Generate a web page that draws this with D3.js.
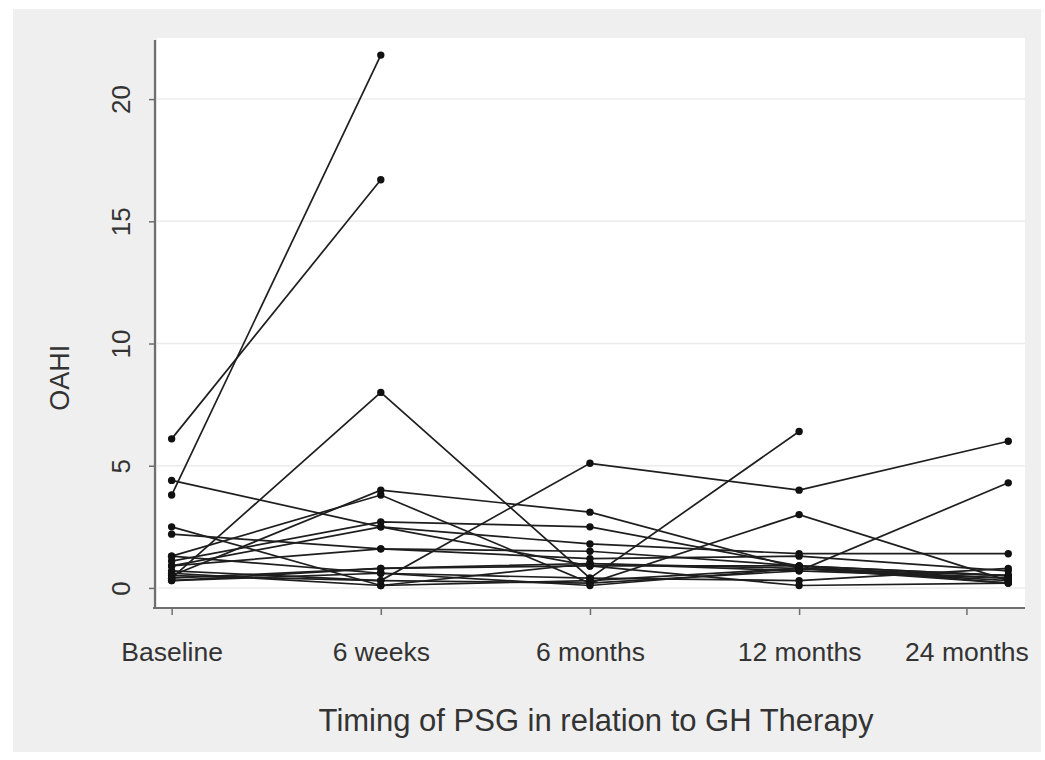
<!DOCTYPE html>
<html>
<head>
<meta charset="utf-8">
<script src="https://cdn.jsdelivr.net/npm/d3@7"></script>
<style>
  body { margin: 0; background: #fff; }
  svg { display: block; }
  text { font-family: "Liberation Sans", Arial, sans-serif; fill: #333; }
</style>
</head>
<body>
<div id="chart"></div>
<script>
// time points (x positions as index), tick labels
var timepoints = ["Baseline", "6 weeks", "6 months", "12 months", "24 months"];
var tickPos = [0, 1, 2, 3, 3.8];
var yTicks = [0, 5, 10, 15, 20];

// OAHI per subject, one value per time point (null = no PSG)
var s01 = [3.8, 21.8, null, null, null];
var s02 = [6.1, 16.7, null, null, null];
var s03 = [0.4, 8.0, 0.4, 6.4, null];
var s04 = [0.7, 0.3, 5.1, 4.0, 6.0];
var s05 = [4.4, 2.5, 1.8, 1.4, 1.4];
var s06 = [0.5, 4.0, 3.1, 0.8, 0.3];
var s07 = [1.3, 3.8, 0.2, 3.0, 0.3];
var s08 = [2.5, 0.1, 1.0, 0.7, 4.3];
var s09 = [2.2, 1.6, 1.5, 0.9, 0.5];
var s10 = [1.1, 2.7, 2.5, 0.9, 0.2];
var s11 = [0.9, 2.5, 0.9, 0.1, 0.2];
var s12 = [0.3, 0.8, 1.0, 0.8, 0.5];
var s13 = [0.3, 0.6, 0.4, 0.3, 0.8];
var s14 = [0.5, 0.3, 0.2, 0.7, 0.4];
var s15 = [0.9, 1.6, 1.2, 1.3, 0.7];
var s16 = [0.4, 0.8, 0.9, 0.9, 0.5];
var s17 = [0.6, 0.1, 0.3, 0.8, 0.2];
var s18 = [1.3, 0.6, 0.1, 0.8, 0.4];

var subjects = [s01, s02, s03, s04, s05, s06, s07, s08, s09, s10,
                s11, s12, s13, s14, s15, s16, s17, s18];

var width = 1045, height = 760;
var plot = { left: 157, right: 1025, top: 38, bottom: 607 };

var svg = d3.select("#chart").append("svg")
  .attr("width", width).attr("height", height);

// outer grey panel
svg.append("rect").attr("x", 13).attr("y", 9)
  .attr("width", 1028).attr("height", 743).attr("fill", "#efefef");
// plot area
svg.append("rect").attr("x", plot.left).attr("y", plot.top)
  .attr("width", plot.right - plot.left).attr("height", plot.bottom - plot.top)
  .attr("fill", "#fff");

var x = d3.scaleLinear().domain([-0.07, 4.08]).range([plot.left, plot.right]);
var y = d3.scaleLinear().domain([-0.78, 22.5]).range([plot.bottom, plot.top]);

// gridlines
svg.append("g").selectAll("line").data(yTicks).join("line")
  .attr("x1", plot.left).attr("x2", plot.right)
  .attr("y1", d => y(d)).attr("y2", d => y(d))
  .attr("stroke", "#ececec").attr("stroke-width", 1.5);

// y axis
var yAxis = svg.append("g")
  .attr("transform", "translate(" + (plot.left - 2) + ",0)")
  .call(d3.axisLeft(y).tickValues(yTicks).tickSize(6));
yAxis.select(".domain").attr("d", "M0," + (plot.top + 2) + "V" + (plot.bottom + 1))
  .attr("stroke", "#6e6e6e").attr("stroke-width", 2.2);
yAxis.selectAll(".tick line").attr("stroke", "#6e6e6e").attr("stroke-width", 1.5);
yAxis.selectAll(".tick text")
  .attr("font-size", 26).attr("fill", "#333")
  .attr("text-anchor", "middle").attr("dy", null).attr("x", null)
  .attr("transform", "translate(-32,0) rotate(-90)")
  .attr("dominant-baseline", "middle");

// x axis
var xAxis = svg.append("g")
  .attr("transform", "translate(0," + (plot.bottom + 1) + ")")
  .call(d3.axisBottom(x).tickValues(tickPos)
    .tickFormat((d, i) => timepoints[i]).tickSize(7).tickPadding(27));
xAxis.select(".domain").attr("d", "M" + (plot.left - 4) + ",0H" + plot.right)
  .attr("stroke", "#6e6e6e").attr("stroke-width", 2.2);
xAxis.selectAll(".tick line").attr("stroke", "#6e6e6e").attr("stroke-width", 1.5);
xAxis.selectAll(".tick text").attr("font-size", 26.5).attr("fill", "#333");

// axis titles
svg.append("text")
  .attr("transform", "translate(69," + y(8.6) + ") rotate(-90)")
  .attr("text-anchor", "middle").attr("font-size", 27).text("OAHI");
svg.append("text")
  .attr("x", 596).attr("y", 731)
  .attr("text-anchor", "middle").attr("font-size", 31)
  .text("Timing of PSG in relation to GH Therapy");

// subject lines
var line = d3.line()
  .defined(d => d != null)
  .x((d, i) => x(i))
  .y(d => y(d));

svg.append("g").selectAll("path").data(subjects).join("path")
  .attr("d", line)
  .attr("fill", "none").attr("stroke", "#1e1e1e").attr("stroke-width", 1.7);

// points
var pts = [];
subjects.forEach(function (s) {
  s.forEach(function (v, i) { if (v != null) pts.push({ i: i, v: v }); });
});
svg.append("g").selectAll("circle").data(pts).join("circle")
  .attr("cx", d => x(d.i)).attr("cy", d => y(d.v))
  .attr("r", 3.7).attr("fill", "#111");
</script>
</body>
</html>
